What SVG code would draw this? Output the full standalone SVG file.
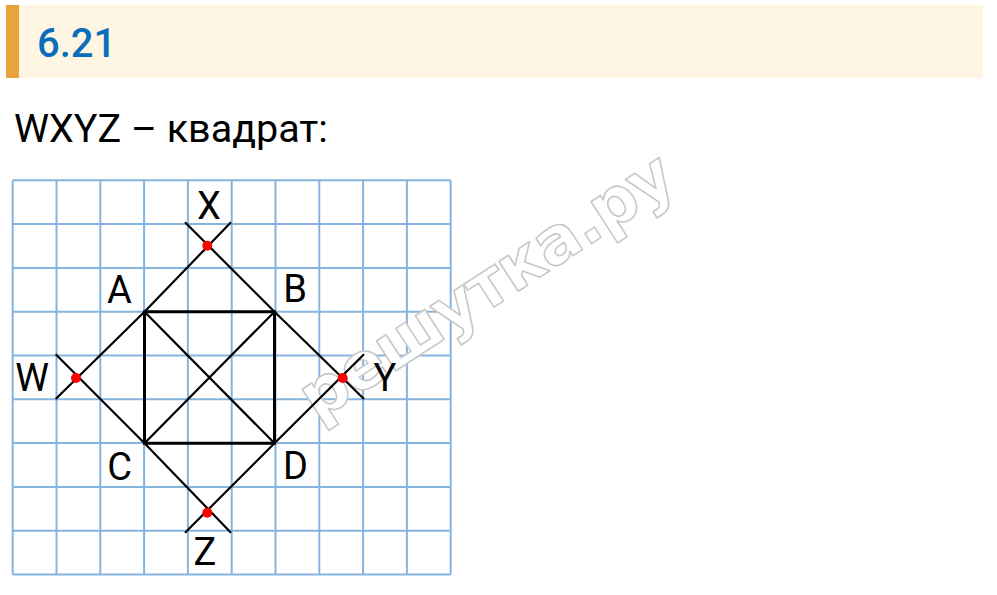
<svg xmlns="http://www.w3.org/2000/svg" width="997" height="595" viewBox="0 0 997 595">
<style>
.grid{stroke:#86b4e0;stroke-width:2;fill:none}
.ln{stroke:#000;stroke-width:2.2;fill:none;stroke-linecap:butt}
.sq{stroke:#000;stroke-width:3;fill:none}
.lbl{font-family:Roboto,"Liberation Sans",sans-serif;font-size:38px;fill:#000;text-anchor:middle}
.pt{fill:#ff0000}
</style>
<rect x="0" y="0" width="997" height="595" fill="#fff"/>
<g id="header">
<rect x="19" y="5" width="964" height="73" fill="#fff5e3"/>
<rect x="6" y="5" width="13" height="73" fill="#e8a33a"/>
<text x="37" y="57" font-family="Roboto,'Liberation Sans',sans-serif" font-size="40" font-weight="500" fill="#0a6ebd">6.21</text>
</g>
<text id="caption" x="14" y="142" font-family="Roboto,'Liberation Sans',sans-serif" font-size="39.5" fill="#000">WXYZ – квадрат:</text>
<g id="grid" class="grid">
<path d="M12.7 180.3V574.5M56.5 180.3V574.5M100.3 180.3V574.5M144.1 180.3V574.5M187.9 180.3V574.5M231.7 180.3V574.5M275.5 180.3V574.5M319.3 180.3V574.5M363.1 180.3V574.5M406.9 180.3V574.5M450.7 180.3V574.5"/>
<path d="M12.7 180.3H450.7M12.7 224.1H450.7M12.7 267.9H450.7M12.7 311.7H450.7M12.7 355.5H450.7M12.7 399.3H450.7M12.7 443.1H450.7M12.7 486.9H450.7M12.7 530.7H450.7M12.7 574.5H450.7"/>
</g>
<g id="watermark" transform="translate(317,422) rotate(-33)">
<text x="0" y="0" font-family="'DejaVu Sans',sans-serif" font-size="65" font-weight="bold" fill="#fff" stroke="#c8c8c8" stroke-width="1.6" stroke-linejoin="round" letter-spacing="-1">решутка.ру</text>
</g>
<g id="connectors">
<path class="sq" d="M144.5 311.7H274.5V443.3H144.5Z"/>
<path class="ln" d="M144.5 311.7L274.5 443.3M274.5 311.7L144.5 443.3"/>
<path class="ln" d="M144.5 311.7L231 222.3M274.5 311.7L185 222.3"/>
<path class="ln" d="M144.5 311.7L55.7 399M144.5 443.3L55.7 354.3"/>
<path class="ln" d="M274.5 311.7L364 399M274.5 443.3L364 354.3"/>
<path class="ln" d="M144.5 443.3L231 532.7M274.5 443.3L185 532.7"/>
</g>
<g id="node-A"><text class="lbl" x="119.5" y="303">A</text></g>
<g id="node-B"><text class="lbl" x="295" y="302">B</text></g>
<g id="node-C"><text class="lbl" x="119.5" y="480">C</text></g>
<g id="node-D"><text class="lbl" x="295.5" y="479">D</text></g>
<g id="node-X"><circle class="pt" cx="207.3" cy="245.7" r="5"/><text class="lbl" x="209" y="219">X</text></g>
<g id="node-W"><circle class="pt" cx="76" cy="378" r="5"/><text class="lbl" x="32" y="391">W</text></g>
<g id="node-Y"><circle class="pt" cx="342.7" cy="378" r="5"/><text class="lbl" x="385" y="391">Y</text></g>
<g id="node-Z"><circle class="pt" cx="207.3" cy="512.7" r="5"/><text class="lbl" x="205" y="565">Z</text></g>
</svg>
